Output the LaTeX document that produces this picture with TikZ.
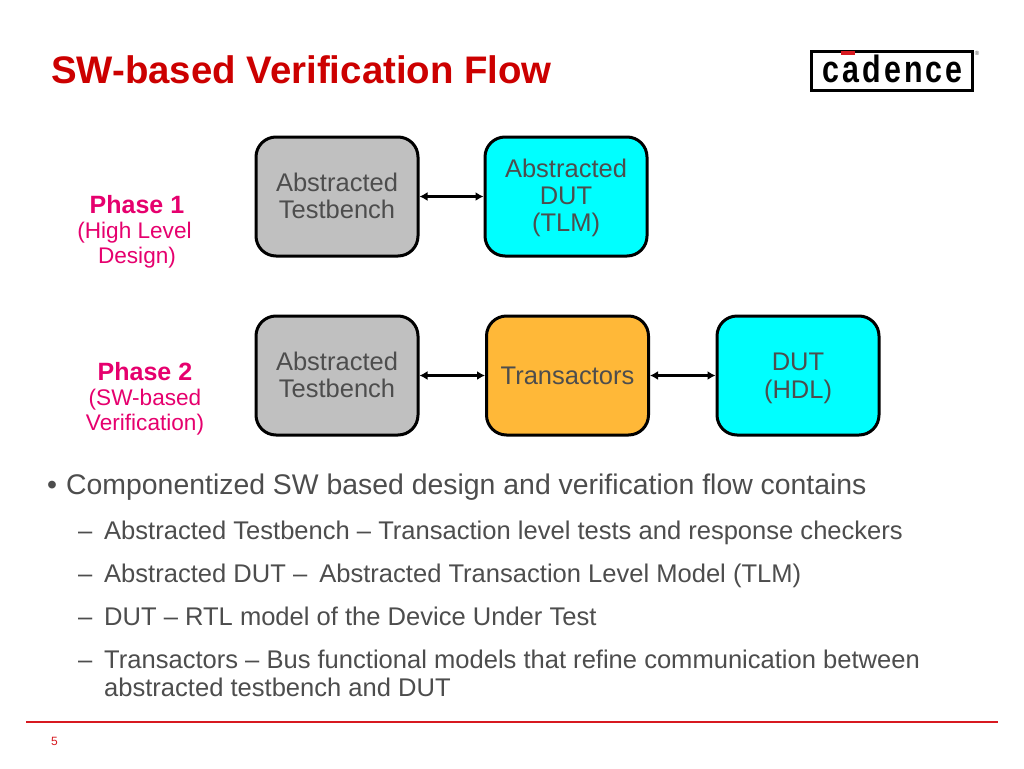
\documentclass[tikz,border=0pt]{standalone}
\usepackage{fontspec}
\setmainfont{Liberation Sans}
\newfontfamily\logofont[LetterSpace=10.5]{Liberation Sans}
\usetikzlibrary{arrows.meta}
\definecolor{rulered}{RGB}{215,25,32}
\definecolor{titlered}{RGB}{204,0,0}
\definecolor{phase}{RGB}{230,0,110}
\definecolor{bodygray}{RGB}{77,77,77}
\definecolor{boxgray}{RGB}{192,192,192}
\definecolor{boxcyan}{RGB}{0,255,255}
\definecolor{boxorange}{RGB}{255,184,56}
\newcommand{\fs}[1]{\fontsize{#1pt}{#1pt}\selectfont}
\newcommand{\boxtext}[2]{\raisebox{#1}[0pt][0pt]{\begin{tabular}{@{}c@{}}#2\end{tabular}}}
\tikzset{
  x=1pt,y=-1pt,
  block/.style={draw=black,line width=3pt,rounded corners=20pt,minimum width=162pt,minimum height=119pt,inner sep=0pt,align=center,text=bodygray,font=\fs{25.5}},
  link/.style={draw=black,line width=2.3pt,{Latex[length=8pt,width=9pt]}-{Latex[length=8pt,width=9pt]}},
  phasehead/.style={text=phase,font=\fs{25}\bfseries,inner sep=0pt,anchor=center},
  phasesub/.style={text=phase,font=\fs{22.6},inner sep=0pt,anchor=center},
  line1/.style={anchor=base west,inner sep=0pt,text=bodygray,font=\fs{28.4}},
  line2/.style={anchor=base west,inner sep=0pt,text=bodygray,font=\fs{25.55}},
}
\begin{document}
\begin{tikzpicture}
\useasboundingbox (0,0) rectangle (1024,768);
\fill[white] (0,0) rectangle (1024,768);
\node[anchor=base west,inner sep=0pt,text=titlered,font=\fs{38.4}\bfseries] (title) at (51,83) {SW-based Verification Flow};
% logo
\node[draw=black,line width=2.2pt,minimum width=161pt,minimum height=39pt,inner sep=0pt] (logo) at (892,71) {};
\node[inner sep=0pt,anchor=base,text=black] (logotext) at (892.5,82.5) {\scalebox{0.8}[1]{\fs{38}\logofont\bfseries cadence}};
\fill[rulered] (841,51) rectangle (855,55);
\node[inner sep=0pt,font=\fs{6},text=bodygray] (reg) at (977,53) {®};
% row 1
\node[block,fill=boxgray] (tb1) at (337,196.5) {\boxtext{-9.5pt}{Abstracted\\[1.2pt]Testbench}};
\node[block,fill=boxcyan] (dut1) at (566,196.5) {\boxtext{-9pt}{Abstracted\\[1.2pt]DUT\\[1.2pt](TLM)}};
\draw[link] (tb1) -- (dut1);
% row 2
\node[block,fill=boxgray] (tb2) at (337,375.5) {\boxtext{-9.5pt}{Abstracted\\[1.2pt]Testbench}};
\node[block,fill=boxorange] (tr) at (567.5,375.5) {Transactors};
\node[block,fill=boxcyan] (dut2) at (798,375.5) {\boxtext{-10pt}{DUT\\[1.2pt](HDL)}};
\draw[link] (tb2) -- (tr);
\draw[link] (tr) -- (dut2);
% phases
\node[phasehead] (p1) at (137,204.5) {Phase 1};
\node[phasesub] (p1a) at (134.5,233) {(High Level};
\node[phasesub] (p1b) at (137,258) {Design)};
\node[phasehead] (p2) at (145,371.5) {Phase 2};
\node[phasesub] (p2a) at (145,399.5) {(SW-based};
\node[phasesub] (p2b) at (145,424.5) {Verification)};
% bullets
\node[line1] (b0) at (47,494) {•};
\node[line1] (b1) at (66,494) {Componentized SW based design and verification flow contains};
\node[line2] (d1) at (78,539) {–};
\node[line2] (t1) at (104,539) {Abstracted Testbench – Transaction level tests and response checkers};
\node[line2] (d2) at (78,582) {–};
\node[line2] (t2) at (104,582) {Abstracted DUT –\hspace{5pt} Abstracted Transaction Level Model (TLM)};
\node[line2] (d3) at (78,625) {–};
\node[line2] (t3) at (104,625) {DUT – RTL model of the Device Under Test};
\node[line2] (d4) at (78,668) {–};
\node[line2] (t4) at (104,668) {Transactors – Bus functional models that refine communication between};
\node[line2] (t5) at (104,696) {abstracted testbench and DUT};
% footer
\coordinate (ruleL) at (26,721.5);
\coordinate (ruleR) at (998,721.5);
\draw[rulered,line width=2pt] (ruleL) -- (ruleR);
\node[anchor=base west,inner sep=0pt,text=rulered,font=\fs{12}] (pg) at (51,745) {5};
\end{tikzpicture}
\end{document}
